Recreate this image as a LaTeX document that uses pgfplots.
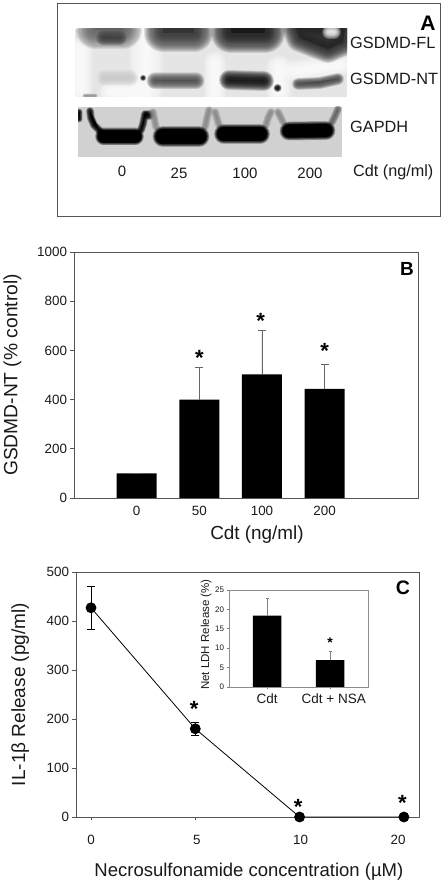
\documentclass[border=0pt]{standalone}
\usepackage{pgfplots}
\pgfplotsset{compat=1.18}
\usepackage{fontspec}
\setmainfont{Liberation Sans}
\definecolor{axc}{HTML}{555555}
\definecolor{txt}{HTML}{1A1A1A}
\newcommand\fs[1]{\fontsize{#1}{#1}\selectfont}
% colour, outer width, blur, path
\newcommand\soft[4]{%
 \foreach \k in {0,...,15}{%
  \pgfmathsetmacro\w{#2-#3*\k/15}%
  \path[draw=#1,fill=#1,line width=\w pt,draw opacity=0.13,fill opacity=0.09,line cap=round,line join=round] #4;}}
\pgfplotsset{
 panel/.style={scale only axis,anchor=south west,clip=false,
  /pgf/number format/assume math mode=true,
  /pgf/number format/1000 sep={},
  axis line style={color=axc,line width=0.9pt},
  tick style={color=axc,line width=0.8pt},
  tick align=outside,major tick length=3.5pt,
  xtick pos=bottom,ytick pos=left,
  ticklabel style={font=\fs{13.4},text=txt},
  label style={text=txt}},
 stars/.style={draw=none,mark=none,forget plot,
  nodes near coords={\bfseries *},
  every node near coord/.append style={anchor=base,inner sep=0pt,yshift=-#1*0.5pt,font=\fs{#1},text=black}},
}
\begin{document}
\begin{tikzpicture}[x=1pt,y=1pt]
\path[fill=white] (0,0) rectangle (445,885);
% Panel A: western blots
\begin{scope}[yshift=885pt,y=-1pt]
\draw[color=axc,line width=0.9pt] (57,3) rectangle (440,216);
\begin{scope}
\clip (75,29) rectangle (347,97);
\fill[color=black!10] (75,29) rectangle (347,97);
\soft{white}{34}{32}{(146,35)--(146,90)}
\soft{white}{26}{24}{(279,68)--(279,92)}
\soft{white}{26}{24}{(80,50)--(80,90)}
\soft{white}{22}{20}{(110,92)--(140,92)}
\soft{white}{22}{20}{(215,62)--(215,95)}
\soft{white}{22}{20}{(295,71)--(340,65)}
\soft{black!62}{38}{34}{(95,22) rectangle (123,30)}
\soft{black!75}{16}{15}{(104,38)--(119,38)}
\soft{black!80}{38}{32}{(163,21) rectangle (194,33)}
\soft{black!90}{40}{32}{(231,21) rectangle (265,33)}
\soft{black!85}{28}{25}{(296,28)--(345,28)--(343,42)--(328,49)--(300,38)--cycle}
\soft{white}{14}{13}{(329,32)--(334,32)}
\soft{black!20}{16}{15}{(105,78)--(130,78)}
\soft{black!70}{17}{15}{(155,81)--(196,81)}
\soft{black!95}{20}{16}{(229,80)--(264,81)}
\soft{black!70}{12}{10}{(298,84)--(320,83)--(338,79)}
\soft{black}{6}{5}{(143,78)--(143.2,78)}
\soft{black}{8}{6}{(277.5,88)--(277.7,88)}
\soft{black!40}{5}{4}{(85,96)--(95,96)}
\end{scope}
\begin{scope}
\clip (78,107) rectangle (342,157);
\fill[color=black!18] (78,107) rectangle (342,157);
\soft{black}{8}{7}{(90,111)--(91,118)--(94,125)--(100,131)}
\soft{black}{8}{7}{(141,130)--(143,124)--(145,114)}
\soft{black}{10}{8}{(148,115)--(150,115)}
\soft{black}{7}{6}{(79,112)--(79,119)}
\soft{black!45}{8}{7}{(205,127)--(207,118)--(209,110)}
\soft{black!45}{8}{7}{(156,127)--(153,112)}
\soft{black!45}{8}{7}{(219,125)--(215,112)}
\soft{black!45}{8}{7}{(266,125)--(268,118)--(271,112)}
\soft{black!45}{8}{7}{(283,122)--(278,112)}
\soft{black!60}{8}{7}{(332,122)--(335,116)--(338,109)}
\soft{black}{18}{8}{(104,136.5)--(135,136.5)}
\soft{black}{14}{3}{(104,136.5)--(135,136.5)}
\soft{black}{21}{8}{(163,136.5)--(199,136.5)}
\soft{black}{16}{3}{(163,136.5)--(199,136.5)}
\soft{black}{20}{8}{(224,134)--(260,134)}
\soft{black}{15}{3}{(224,134)--(260,134)}
\soft{black}{19}{8}{(289,131)--(326,130.5)}
\soft{black}{14}{3}{(289,131)--(326,130.5)}
\end{scope}
\end{scope}
\node[anchor=west,inner sep=0pt,font=\fs{16.3},text=txt] at (350,885-43) {GSDMD-FL};
\node[anchor=west,inner sep=0pt,font=\fs{16.3},text=txt] at (350,885-79) {GSDMD-NT};
\node[anchor=west,inner sep=0pt,font=\fs{16.3},text=txt] at (350,885-127) {GAPDH};
\node[inner sep=0pt,font=\fs{15},text=txt] at (122,885-171) {0};
\node[inner sep=0pt,font=\fs{15},text=txt] at (179,885-173) {25};
\node[inner sep=0pt,font=\fs{15},text=txt] at (245,885-173) {100};
\node[inner sep=0pt,font=\fs{15},text=txt] at (310,885-173) {200};
\node[anchor=west,inner sep=0pt,font=\fs{16.2},text=txt] at (353,885-172) {Cdt (ng/ml)};
\node[inner sep=0pt,font=\fs{21}\bfseries] at (428,885-23) {A};
% Panel B
\begin{axis}[panel,at={(74pt,387pt)},width=344pt,height=246pt,
 xmin=-1,xmax=4.49,ymin=0,ymax=1000,
 xtick={0,1,2,3},xticklabels={0,50,100,200},
 ytick={0,200,400,600,800,1000},
 xtick style={draw=none},
 xticklabel style={yshift=-1pt},
 xlabel={Cdt (ng/ml)},ylabel={GSDMD-NT (\% control)},
 xlabel style={font=\fs{18.9},at={(axis description cs:0.532,-0.150)},anchor=center},
 ylabel style={font=\fs{19.2},at={(axis description cs:-0.179,0.5)},anchor=center}]
\addplot[ybar,bar width=40pt,bar shift=0pt,fill=black,draw=none,
 error bars/.cd,y dir=plus,y explicit,
 error bar style={color=black!60,line width=0.9pt},
 error mark options={rotate=90,mark size=4pt,color=black!60,line width=0.9pt}]
 coordinates {(0,100) +- (0,0) (1,400) +- (0,132) (2,502) +- (0,180) (3,444) +- (0,97)};
\addplot[stars=22] coordinates {(1,585) (1.98,733) (3,611)};
\end{axis}
\node[inner sep=0pt,font=\fs{19}\bfseries] at (407,885-269) {B};
% Panel C
\begin{axis}[panel,at={(76pt,68pt)},width=343pt,height=245pt,
 xmin=-0.144,xmax=3.145,ymin=0,ymax=500,
 xtick={0,1,2,3},xticklabels={0,\kern3pt 5,\kern2pt 10,\kern-11.5pt 20},
 ytick={0,100,200,300,400,500},
 xticklabel style={yshift=-11pt},
 xlabel={Necrosulfonamide concentration (µM)},ylabel={IL-1β Release (pg/ml)},
 xlabel style={font=\fs{18.5},at={(axis description cs:0.504,-0.224)},anchor=center},
 ylabel style={font=\fs{19},at={(axis description cs:-0.163,0.5)},anchor=center}]
\addplot[color=black,line width=0.8pt,mark=*,mark size=5pt,mark options={fill=black},
 error bars/.cd,y dir=both,y explicit,
 error bar style={color=black,line width=0.7pt},
 error mark options={rotate=90,mark size=4pt,color=black,line width=0.7pt}]
 coordinates {(0,427) +- (0,44) (1,180) +- (0,14) (2,0) +- (0,0) (3,0) +- (0,0)};
\addplot[stars=22] coordinates {(0.99,227) (1.987,28.5) (2.985,35)};
\end{axis}
\node[inner sep=0pt,font=\fs{19.5}\bfseries] at (403,885-588) {C};
% Inset
\begin{axis}[panel,at={(229pt,198pt)},width=139pt,height=97pt,
 xmin=-0.606,xmax=1.6,ymin=0,ymax=25,
 xtick={0,1},xticklabels={Cdt,\kern7pt Cdt + NSA},
 ytick={0,5,10,15,20,25},
 axis line style={color=black!45,line width=0.7pt},
 tick style={color=black!50,line width=0.6pt},
 major tick length=2.5pt,
 yticklabel style={font=\fs{8},xshift=1pt},
 xticklabel style={font=\fs{13.5},yshift=-1pt},
 ylabel={Net LDH Release (\%)},
 ylabel style={font=\fs{11.5},at={(axis description cs:-0.165,0.54)},anchor=center}]
\addplot[ybar,bar width=28.5pt,bar shift=0pt,fill=black,draw=none,
 error bars/.cd,y dir=plus,y explicit,
 error bar style={color=black!50,line width=0.6pt},
 error mark options={rotate=90,mark size=1.5pt,color=black!50,line width=0.6pt}]
 coordinates {(0,18.4) +- (0,4.4) (1,6.9) +- (0,2.3)};
\addplot[stars=14] coordinates {(1,12.1)};
\end{axis}
\end{tikzpicture}
\end{document}
